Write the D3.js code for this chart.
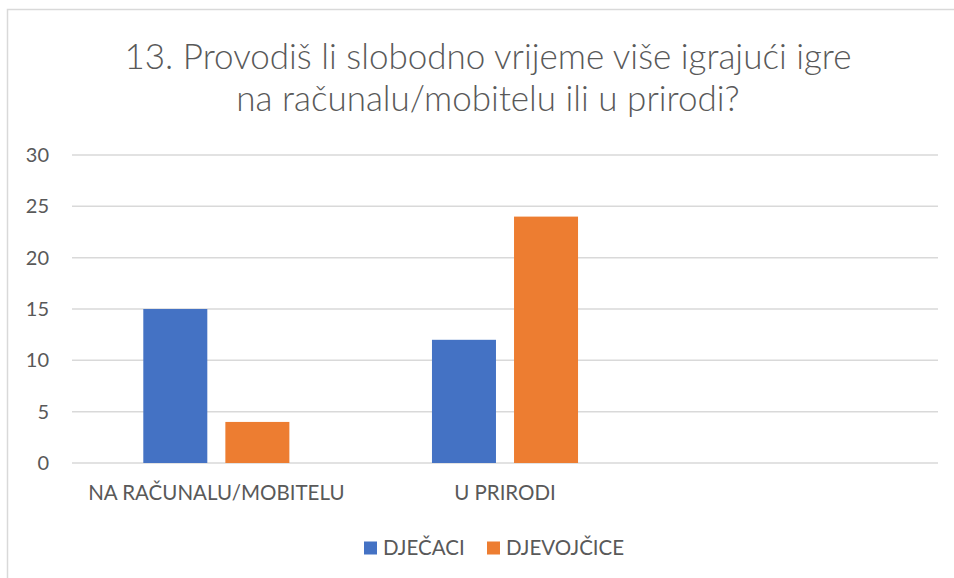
<!DOCTYPE html>
<html>
<head>
<meta charset="utf-8">
<script src="https://cdn.jsdelivr.net/npm/d3@7"></script>
<style>
	body { margin: 0; background: #fff; }
	svg { display: block; font-family: Lato, 'Open Sans', sans-serif; }
	.grid line { stroke: #d9d9d9; stroke-width: 1.5; }
	.tick-label { fill: #595959; font-size: 20px; }
	.cat-label { fill: #595959; font-size: 20.5px; }
	.legend-label { fill: #595959; font-size: 20.5px; }
	.title { fill: #595959; font-size: 35px; font-weight: 300; }
</style>
</head>
<body>
<svg id="chart" width="954" height="578"></svg>
<script>
const categories = ['NA RAČUNALU/MOBITELU', 'U PRIRODI', '']
const seriesNames = ['DJEČACI', 'DJEVOJČICE']
const djecaci = [15, 12, null]
const djevojcice = [4, 24, null]
const yTicks = [0, 5, 10, 15, 20, 25, 30]
const colors = ['#4472c4', '#ed7d31']
const titleLines = ['13. Provodiš li slobodno vrijeme više igrajući igre', 'na računalu/mobitelu ili u prirodi?']

const svg = d3.select('#chart')
const width = 954
const height = 578
const padding = { left: 72, right: 16, top: 155, bottom: 115 }

// chart frame
svg.append('rect')
	.attr('x', 7.5)
	.attr('y', 9.5)
	.attr('width', width + 20)
	.attr('height', height + 20)
	.attr('fill', 'none')
	.attr('stroke', '#d9d9d9')
	.attr('stroke-width', 1.5)

svg.selectAll('.title')
	.data(titleLines)
	.enter()
	.append('text')
	.attr('class', 'title')
	.attr('x', 488)
	.attr('y', (d, i) => 69 + i*42)
	.attr('text-anchor', 'middle')
	.text(d => d)

const yScale = d3.scaleLinear()
	.domain([0, 30])
	.range([height - padding.bottom, padding.top])

const x0 = d3.scaleBand()
	.domain(d3.range(categories.length))
	.range([padding.left, width - padding.right])
	.padding(0)

const groupW = x0.bandwidth()*0.506
const x1 = d3.scaleBand()
	.domain(seriesNames)
	.range([(x0.bandwidth() - groupW)/2, (x0.bandwidth() + groupW)/2])
	.paddingInner(0.22)

const grid = svg.append('g').attr('class', 'grid')

grid.selectAll('line')
	.data(yTicks)
	.enter()
	.append('line')
	.attr('x1', padding.left)
	.attr('x2', width - padding.right)
	.attr('y1', d => yScale(d))
	.attr('y2', d => yScale(d))

svg.selectAll('.tick-label')
	.data(yTicks)
	.enter()
	.append('text')
	.attr('class', 'tick-label')
	.attr('x', 49)
	.attr('y', d => yScale(d))
	.attr('dy', '0.35em')
	.attr('text-anchor', 'end')
	.text(d => d)

const seriesData = [djecaci, djevojcice]

const groups = svg.selectAll('.cat')
	.data(categories)
	.enter()
	.append('g')
	.attr('class', 'cat')
	.attr('transform', (d, i) => 'translate(' + x0(i) + ', 0)')

groups.selectAll('rect')
	.data((d, i) => seriesNames.map((s, j) => ({ s, v: seriesData[j][i], c: colors[j] })).filter(e => e.v != null))
	.enter()
	.append('rect')
	.attr('x', d => x1(d.s))
	.attr('width', x1.bandwidth())
	.attr('y', d => yScale(d.v))
	.attr('height', d => yScale(0) - yScale(d.v))
	.attr('fill', d => d.c)

groups.append('text')
	.attr('class', 'cat-label')
	.attr('x', x0.bandwidth()/2)
	.attr('y', 500)
	.attr('text-anchor', 'middle')
	.text(d => d)

const legend = svg.selectAll('.legend')
	.data(seriesNames)
	.enter()
	.append('g')
	.attr('class', 'legend')
	.attr('transform', (d, i) => 'translate(' + [364, 487][i] + ', 548)')

legend.append('rect')
	.attr('x', 0)
	.attr('y', -6.5)
	.attr('width', 13)
	.attr('height', 13)
	.attr('fill', (d, i) => colors[i])

legend.append('text')
	.attr('class', 'legend-label')
	.attr('x', 19)
	.attr('y', 0)
	.attr('dy', '0.36em')
	.text(d => d)
</script>
</body>
</html>
